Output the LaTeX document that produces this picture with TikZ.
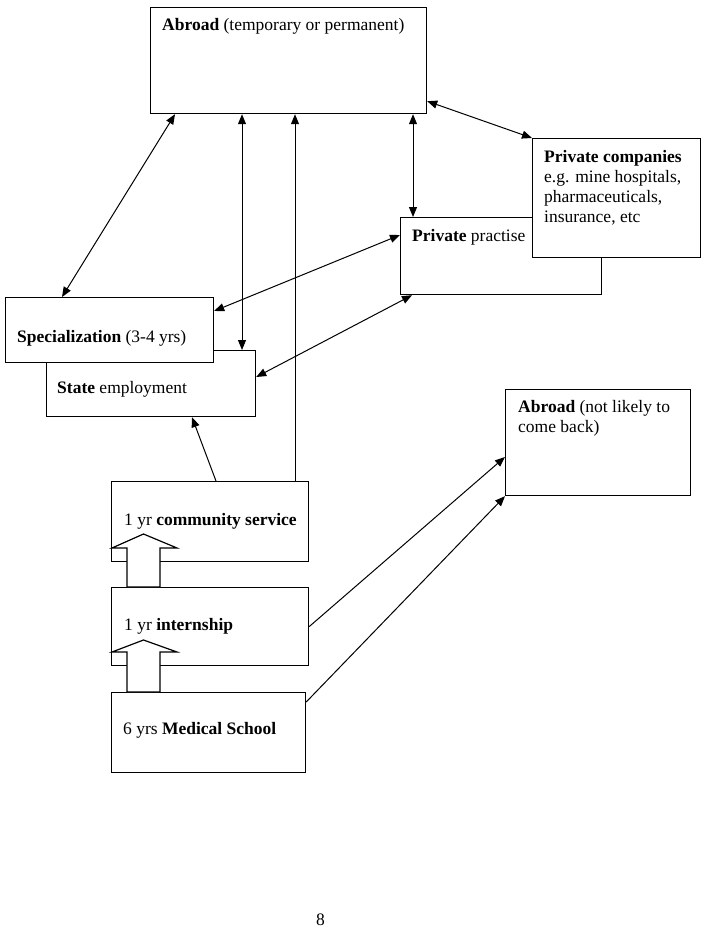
\documentclass[tikz,border=0pt]{standalone}
\usepackage{fontspec}
\setmainfont{Liberation Serif}
\usetikzlibrary{arrows.meta}

\begin{document}
\begin{tikzpicture}[x=1pt,y=-1pt,
  box/.style={draw,line width=1.2pt,fill=white,anchor=north west,inner sep=0pt},
  lbl/.style={anchor=base west,inner sep=0pt,align=left,font=\fontsize{17.5}{20}\selectfont},
  link/.style={line width=1pt,{Triangle[length=10pt,width=8pt]}-{Triangle[length=10pt,width=8pt]}},
  oneway/.style={line width=1pt,-{Triangle[length=10pt,width=8pt]}},
  uparrow/.style={draw,line width=1.2pt,fill=white}]
  \useasboundingbox (0,0) rectangle (703,939);

  \node[box,minimum width=276pt,minimum height=106pt] (abroad) at (150,7) {};
  \node[lbl] (abroadtxt) at (162,31) {\textbf{Abroad} (temporary or permanent)};

  \node[box,minimum width=201pt,minimum height=77pt] (private) at (400,217) {};
  \node[lbl] (privatetxt) at (412,241) {\textbf{Private} practise};
  \node[box,minimum width=168pt,minimum height=119pt] (companies) at (532,138) {};
  \node[lbl] (companiestxt) at (544,222) {\textbf{Private companies}\\e.g. mine hospitals,\\pharmaceuticals,\\insurance, etc};

  \node[box,minimum width=209pt,minimum height=66pt] (state) at (46,350) {};
  \node[lbl] (statetxt) at (57,393) {\textbf{State} employment};
  \node[box,minimum width=208pt,minimum height=65pt] (special) at (5,297) {};
  \node[lbl] (specialtxt) at (17,342) {\textbf{Specialization} (3-4 yrs)};

  \node[box,minimum width=185pt,minimum height=106pt] (gone) at (505,389) {};
  \node[lbl] (gonetxt) at (518,432) {\textbf{Abroad} (not likely to\\come back)};

  \node[box,minimum width=197pt,minimum height=80pt] (service) at (111,481) {};
  \node[lbl] (servicetxt) at (124,525) {1 yr \textbf{community service}};
  \node[box,minimum width=197pt,minimum height=78pt] (intern) at (111,587) {};
  \node[lbl] (interntxt) at (124,630) {1 yr \textbf{internship}};
  \node[box,minimum width=194pt,minimum height=80pt] (school) at (111,692) {};
  \node[lbl] (schooltxt) at (123,734) {6 yrs \textbf{Medical School}};

  \draw[uparrow] ([xshift=16pt]intern.north west) -- ++(0,-39) -- ++(-15,0)
    -- ++(31.5,-14) -- ++(33.5,14) -- ++(-17,0) -- ++(0,39) -- cycle;
  \draw[uparrow] ([xshift=16pt]school.north west) -- ++(0,-40) -- ++(-15,0)
    -- ++(31.5,-12) -- ++(33.5,12) -- ++(-17,0) -- ++(0,40) -- cycle;

  \draw[link] ([xshift=25pt]abroad.south west) -- ([xshift=57pt]special.north west);
  \draw[link] ([xshift=92pt]abroad.south west) coordinate (a1) -- (a1 |- state.north);
  \draw[oneway] ([xshift=184pt]service.north west) coordinate (s1) -- (s1 |- abroad.south);
  \draw[link] ([xshift=13pt]private.north west) coordinate (p1) -- (p1 |- abroad.south);
  \draw[link] ([yshift=13pt]abroad.south east) -- (companies.north west);
  \draw[link] ([yshift=-18pt]private.north west) -- ([yshift=-14pt]special.north east);
  \draw[link] ([xshift=12pt]private.south west) -- ([yshift=-27pt]state.north east);
  \draw[oneway] ([xshift=105pt]service.north west) -- ([xshift=146pt]state.south west);
  \draw[oneway] (intern.east) -- ([yshift=-68pt]gone.north west);
  \draw[oneway] ([yshift=-10pt]school.north east) -- (gone.south west);

  \node[lbl] (page) at (316,925) {8};
\end{tikzpicture}
\end{document}
